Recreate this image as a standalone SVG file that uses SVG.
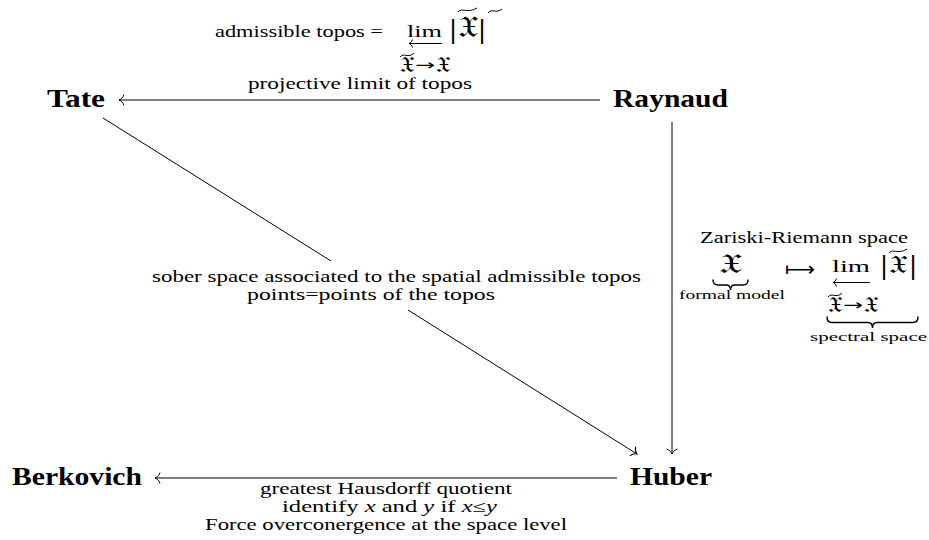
<svg xmlns="http://www.w3.org/2000/svg" width="929" height="540" viewBox="0 0 929 540">
<style>
  .t { font-family: "Liberation Serif", "DejaVu Serif", serif; font-size: 16px; fill: #000; }
  .s { font-family: "Liberation Serif", "DejaVu Serif", serif; font-size: 13px; fill: #000; }
  .n { font-family: "Liberation Serif", "DejaVu Serif", serif; font-size: 26px; font-weight: bold; fill: #000; }
  .fr { font-family: "DejaVu Serif", "DejaVu Sans", "Noto Sans", serif; fill: #000; }
  .sym { font-family: "DejaVu Sans", "Liberation Serif", sans-serif; fill: #000; }
  .bar { font-family: "DejaVu Sans", sans-serif; font-size: 24px; fill: #000; }
  .ln { stroke: #000; stroke-width: 1; fill: none; }
  .acc { stroke: #000; stroke-width: 1; fill: none; }
  .brace { stroke: #000; stroke-width: 1.4; fill: none; stroke-linecap: round; }
</style>
<defs>
  <marker id="to" markerUnits="userSpaceOnUse" markerWidth="14" markerHeight="14" viewBox="-8 -7 10 14" refX="0" refY="0" orient="auto">
    <path d="M -5,-5.5 C -4,-2 -1.5,-0.6 0,0 C -1.5,0.6 -4,2 -5,5.5" stroke="#000" stroke-width="1" fill="none"/>
  </marker>
  <marker id="lto" markerUnits="userSpaceOnUse" markerWidth="10" markerHeight="10" viewBox="-6 -5 8 10" refX="0" refY="0" orient="auto">
    <path d="M -3.5,-4 C -3,-1.5 -1,-0.4 0,0 C -1,0.4 -3,1.5 -3.5,4" stroke="#000" stroke-width="1" fill="none"/>
  </marker>
</defs>

<g id="connectors">
  <line class="ln" x1="600" y1="100" x2="119" y2="100" marker-end="url(#to)"/>
  <line class="ln" x1="672" y1="122" x2="672" y2="454" marker-end="url(#to)"/>
  <line class="ln" x1="103" y1="118" x2="331" y2="261"/>
  <line class="ln" x1="408" y1="310" x2="637" y2="454" marker-end="url(#to)"/>
  <line class="ln" x1="617" y1="478" x2="155" y2="478" marker-end="url(#to)"/>
</g>

<g id="node-tate"><text class="n" x="47" y="107" textLength="58" lengthAdjust="spacingAndGlyphs">Tate</text></g>
<g id="node-raynaud"><text class="n" x="613" y="107" textLength="115" lengthAdjust="spacingAndGlyphs">Raynaud</text></g>
<g id="node-huber"><text class="n" x="630" y="485" textLength="82" lengthAdjust="spacingAndGlyphs">Huber</text></g>
<g id="node-berkovich"><text class="n" x="12" y="485" textLength="130" lengthAdjust="spacingAndGlyphs">Berkovich</text></g>

<g id="label-top">
  <text class="t" x="215" y="37" textLength="168" lengthAdjust="spacingAndGlyphs">admissible topos =</text>
  <text class="t" x="407" y="37" font-size="19" textLength="35" lengthAdjust="spacingAndGlyphs">lim</text>
  <line class="ln" x1="442" y1="43.5" x2="409" y2="43.5" marker-end="url(#lto)"/>
  <text class="bar" x="449" y="38">|</text>
  <text class="fr" x="458" y="37" font-size="30" textLength="20" lengthAdjust="spacingAndGlyphs">𝔛</text>
  <text class="bar" x="478" y="38">|</text>
  <path class="acc" d="M 458 12 C 462 7, 467 14, 477 8"/>
  <path class="acc" d="M 488 13 C 492 8, 496 14, 502 9"/>
  <text class="fr" x="400" y="72" font-size="22" textLength="14" lengthAdjust="spacingAndGlyphs">𝔛</text>
  <text class="sym" x="415" y="70" font-size="15" textLength="20" lengthAdjust="spacingAndGlyphs">→</text>
  <text class="fr" x="436" y="72" font-size="22" textLength="14" lengthAdjust="spacingAndGlyphs">𝔛</text>
  <path class="acc" d="M 400 57 C 404 52, 408 59, 414 53"/>
  <text class="t" x="248" y="89" textLength="224" lengthAdjust="spacingAndGlyphs">projective limit of topos</text>
</g>

<g id="label-diagonal">
  <text class="t" x="152" y="282" textLength="489" lengthAdjust="spacingAndGlyphs">sober space associated to the spatial admissible topos</text>
  <text class="t" x="247" y="300" textLength="248" lengthAdjust="spacingAndGlyphs">points=points of the topos</text>
</g>

<g id="label-right">
  <text class="t" x="700" y="243" textLength="208" lengthAdjust="spacingAndGlyphs">Zariski-Riemann space</text>
  <text class="fr" x="719" y="273" font-size="28" textLength="23" lengthAdjust="spacingAndGlyphs">𝔛</text>
  <path class="brace" d="M 713 280 Q 713 285 718 285 L 726 285 Q 730.5 285 730.5 290 Q 730.5 285 735 285 L 743 285 Q 748 285 748 280"/>
  <text class="s" x="679" y="299" textLength="106" lengthAdjust="spacingAndGlyphs">formal model</text>
  <text class="sym" x="785" y="276" font-size="20" textLength="30" lengthAdjust="spacingAndGlyphs">⟼</text>
  <text class="t" x="832" y="272" font-size="19" textLength="38" lengthAdjust="spacingAndGlyphs">lim</text>
  <line class="ln" x1="870" y1="282.5" x2="833" y2="282.5" marker-end="url(#lto)"/>
  <text class="bar" x="880" y="274">|</text>
  <text class="fr" x="889" y="273" font-size="26" textLength="19" lengthAdjust="spacingAndGlyphs">𝔛</text>
  <text class="bar" x="909" y="274">|</text>
  <path class="acc" d="M 889 253 C 893 248, 897 255, 907 249"/>
  <text class="fr" x="828" y="312" font-size="22" textLength="14" lengthAdjust="spacingAndGlyphs">𝔛</text>
  <text class="sym" x="843" y="310" font-size="15" textLength="20" lengthAdjust="spacingAndGlyphs">→</text>
  <text class="fr" x="864" y="312" font-size="22" textLength="14" lengthAdjust="spacingAndGlyphs">𝔛</text>
  <path class="acc" d="M 828 297 C 832 292, 836 299, 842 293"/>
  <path class="brace" d="M 827 317 Q 827 322.5 832 322.5 L 868 322.5 Q 872.5 322.5 872.5 328 Q 872.5 322.5 877 322.5 L 913 322.5 Q 918 322.5 918 317"/>
  <text class="s" x="810" y="341" textLength="117" lengthAdjust="spacingAndGlyphs">spectral space</text>
</g>

<g id="label-bottom">
  <text class="t" x="260" y="494" textLength="252" lengthAdjust="spacingAndGlyphs">greatest Hausdorff quotient</text>
  <text class="t" x="282" y="512" textLength="215" lengthAdjust="spacingAndGlyphs">identify <tspan font-style="italic">x</tspan> and <tspan font-style="italic">y</tspan> if <tspan font-style="italic">x</tspan>≤<tspan font-style="italic">y</tspan></text>
  <text class="t" x="205" y="530" textLength="362" lengthAdjust="spacingAndGlyphs">Force overconergence at the space level</text>
</g>
</svg>
